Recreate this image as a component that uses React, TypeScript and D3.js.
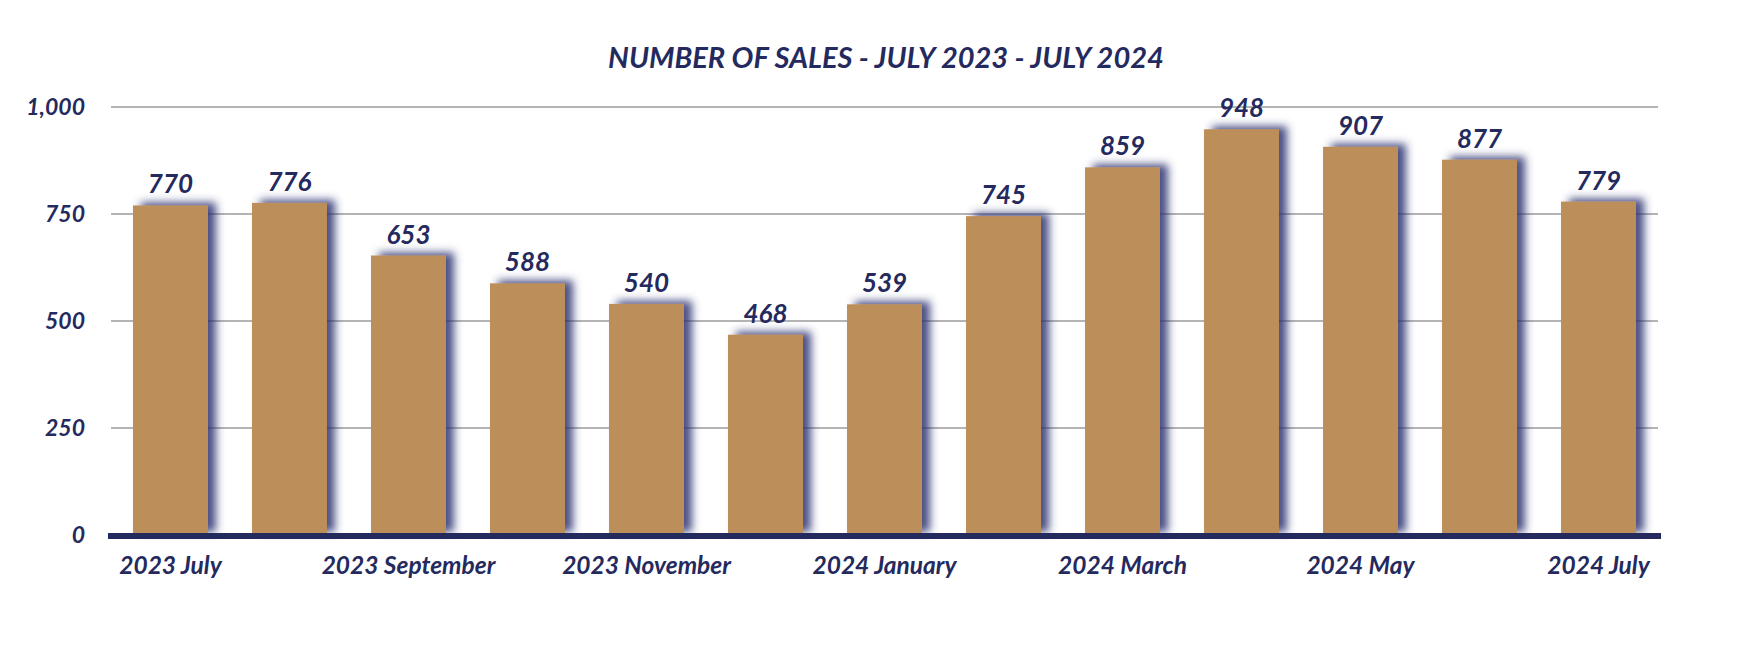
import React from "react";
import * as d3 from "d3";

const months = [
  "2023 July", "2023 August", "2023 September", "2023 October", "2023 November",
  "2023 December", "2024 January", "2024 February", "2024 March", "2024 April",
  "2024 May", "2024 June", "2024 July",
];
const sales = [770, 776, 653, 588, 540, 468, 539, 745, 859, 948, 907, 877, 779];
const yTicks = [0, 250, 500, 750, 1000];
const title = "NUMBER OF SALES - JULY 2023 - JULY 2024";

const W = 1760;
const H = 660;
const NAVY = "#252a5e";
const BAR = "#bc8f5a";
const GRID = "#b4b4b4";
const FONT = "Lato, 'Open Sans', sans-serif";

export default function App() {
  const x = d3
    .scaleBand<string>()
    .domain(months)
    .range([108, 1661])
    .paddingInner(0.37)
    .paddingOuter(0.21);
  const y = d3.scaleLinear().domain([0, 1000]).range([535, 107]);
  const fmt = d3.format(",");

  return (
    <svg
      width={W}
      height={H}
      style={{ position: "absolute", left: 0, top: 0, background: "#fff" }}
      fontFamily={FONT}
    >
      <defs>
        <filter id="shadow" x="-30%" y="-30%" width="160%" height="160%">
          <feGaussianBlur in="SourceAlpha" stdDeviation="4.5" />
          <feOffset dx="8" dy="-3" result="blur" />
          <feFlood floodColor="#2a3070" floodOpacity="0.85" />
          <feComposite in2="blur" operator="in" />
          <feMerge>
            <feMergeNode />
            <feMergeNode in="SourceGraphic" />
          </feMerge>
        </filter>
      </defs>

      <text
        x={886}
        y={68}
        textAnchor="middle"
        fill={NAVY}
        fontSize={29}
        fontWeight={700}
        fontStyle="italic"
      >
        {title}
      </text>

      {yTicks.map((t) => (
        <g key={t}>
          {t > 0 && (
            <line x1={111} x2={1658} y1={y(t)} y2={y(t)} stroke={GRID} strokeWidth={2} />
          )}
          <text
            x={85}
            y={y(t)}
            dy="0.36em"
            textAnchor="end"
            fill={NAVY}
            fontSize={23}
            fontWeight={700}
            fontStyle="italic"
          >
            {fmt(t)}
          </text>
        </g>
      ))}

      {months.map((m, i) => (
        <rect
          key={m}
          x={x(m)}
          y={y(sales[i])}
          width={x.bandwidth()}
          height={y(0) - y(sales[i])}
          fill={BAR}
          filter="url(#shadow)"
        />
      ))}

      <line x1={108} x2={1661} y1={536} y2={536} stroke={NAVY} strokeWidth={6} />

      {months.map((m, i) => (
        <text
          key={m + "v"}
          x={(x(m) ?? 0) + x.bandwidth() / 2}
          y={y(sales[i]) - 12}
          textAnchor="middle"
          fill={NAVY}
          fontSize={26}
          fontWeight={700}
          fontStyle="italic"
        >
          {sales[i]}
        </text>
      ))}

      {months.map((m, i) =>
        i % 2 === 0 ? (
          <text
            key={m + "l"}
            x={(x(m) ?? 0) + x.bandwidth() / 2}
            y={574}
            textAnchor="middle"
            fill={NAVY}
            fontSize={24.5}
            fontWeight={700}
            fontStyle="italic"
          >
            {m}
          </text>
        ) : null
      )}
    </svg>
  );
}
